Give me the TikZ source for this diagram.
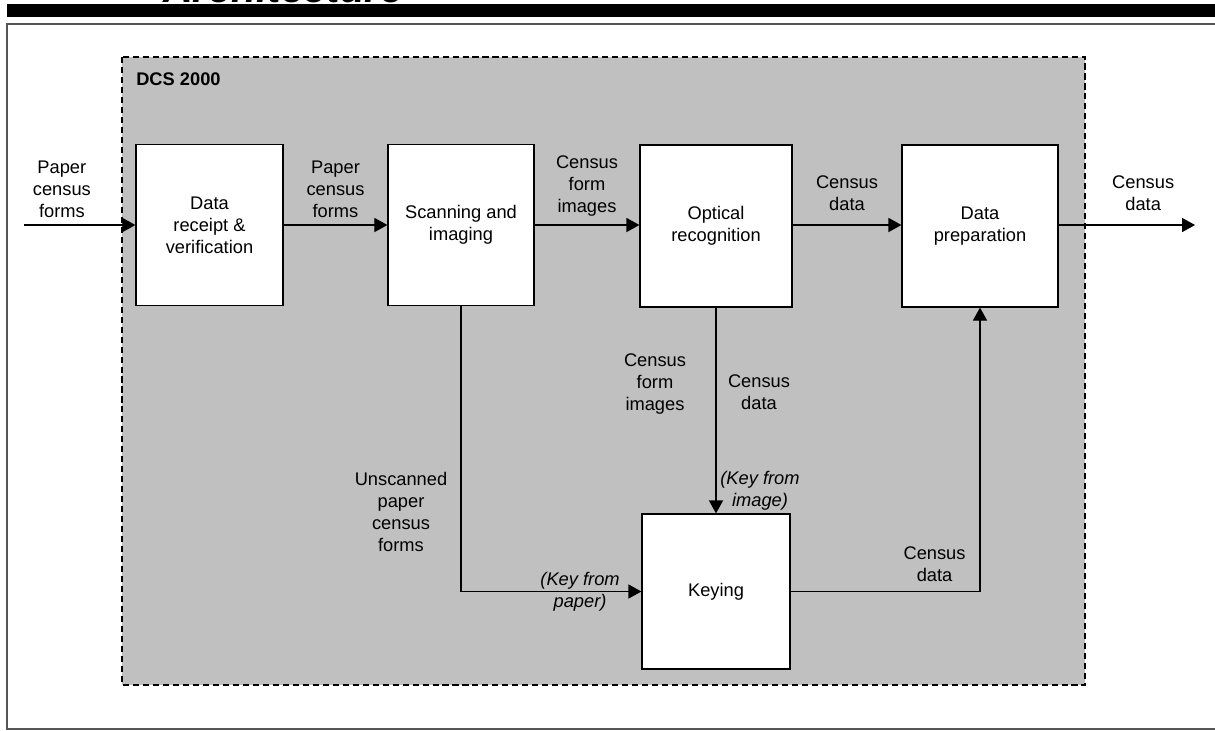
\documentclass[tikz,border=0pt]{standalone}
\usepackage{fontspec}
\setmainfont{Liberation Sans}
\definecolor{PanelGray}{HTML}{C0C0C0}
\definecolor{FrameGray}{HTML}{555555}
\newcommand\px{0.025cm}
\newcommand\lblfont{\fontsize{13}{15.65}\selectfont}
\usetikzlibrary{arrows.meta}
\tikzset{
  stage/.style={draw, fill=white, line width=0.9pt, align=center, inner sep=0pt, font=\lblfont},
  flowlabel/.style={align=center, inner sep=0pt, font=\lblfont},
  keylabel/.style={flowlabel, font=\lblfont\itshape},
  flow/.style={line width=0.8pt, -{Triangle[length=9.2pt, width=10pt]}},
}

\begin{document}
\begin{tikzpicture}[x=0.025cm, y=-0.025cm]

    \useasboundingbox (0,0) rectangle (1215,730);

    \node [anchor=base west, inner sep=0pt, font=\fontsize{29}{30}\selectfont\bfseries\itshape] (title) at (163,3) {Architecture};
    \fill (7,4) rectangle (1216,17);
    \draw [FrameGray, line width=1.4pt] (7,24) rectangle (1230,729);
    \draw [fill=PanelGray, dash pattern=on 4.3pt off 2.8pt, line width=1.4pt] (122,57) rectangle (1085,685);
    \node [anchor=west, inner sep=0pt, font=\lblfont\bfseries] (dcs) at (136,79) {DCS 2000};

    \coordinate (In) at (24,225);
    \coordinate (Out) at (1195,225);

    \node [stage, minimum width=147*\px, minimum height=161*\px] (Receipt) at (209.5,225) {Data\\receipt \&\\verification};
    \node [stage, minimum width=146*\px, minimum height=161*\px] (Scan) at (461,225) {Scanning and\\imaging};
    \node [stage, minimum width=152*\px, minimum height=162*\px] (Ocr) at (716,226) {Optical\\recognition};
    \node [stage, minimum width=156*\px, minimum height=162*\px] (Prep) at (980,226) {Data\\preparation};
    \node [stage, minimum width=148*\px, minimum height=155*\px] (Keying) at (716,591.5) {Keying};

    \draw [flow] (In) -- node [flowlabel, pos=0.34, above=5pt] {Paper\\census\\forms} (In -| Receipt.west);
    \draw [flow] (Receipt) -- node [flowlabel, above=5pt] {Paper\\census\\forms} (Scan);
    \draw [flow] (Scan) -- node [flowlabel, above=6pt] {Census\\form\\images} (Scan -| Ocr.west);
    \draw [flow] (Ocr.east |- Scan) -- node [flowlabel, above=9.5pt] {Census\\data} (Scan -| Prep.west);
    \draw [flow] (Prep.east |- Out) -- node [flowlabel, pos=0.62, above=10pt] {Census\\data} (Out);

    \draw [flow] (Scan.south) -- node [flowlabel, pos=0.72, xshift=-60*\px] {Unscanned\\paper\\census\\forms} (Scan.south |- Keying.west)
    -- node [keylabel, pos=0.66] {(Key from\\paper)} (Keying.west);

    \draw [flow] (Ocr.south) -- node [flowlabel, pos=0.37, xshift=-61*\px] {Census\\form\\images}
    node [flowlabel, pos=0.41, xshift=43*\px] {Census\\data}
    node [keylabel, pos=0.89, xshift=44*\px] {(Key from\\image)} (Keying.north);

    \draw [flow] (Keying.east) -- node [flowlabel, pos=0.76, yshift=27*\px] {Census\\data} (Keying.east -| Prep.south) -- (Prep.south);

\end{tikzpicture}
\end{document}
